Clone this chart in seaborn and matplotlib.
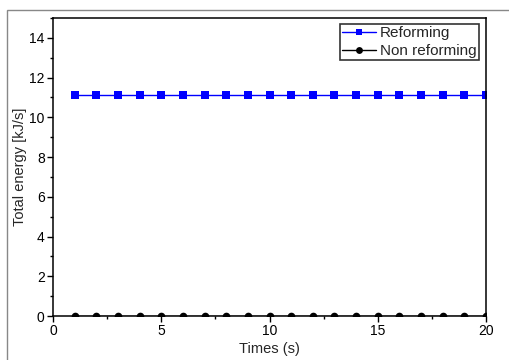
import numpy as np
import pandas as pd
import matplotlib
matplotlib.use("Agg")
import matplotlib.pyplot as plt
from matplotlib.patches import Rectangle
from matplotlib.ticker import MultipleLocator
import seaborn as sns

times = [1, 2, 3, 4, 5, 6, 7, 8, 9, 10, 11, 12, 13, 14, 15, 16, 17, 18, 19, 20]
reforming = [11.1] * 20
non_reforming = [0.0] * 20
series_names = ["Reforming", "Non reforming"]

df = pd.DataFrame({
    "Times (s)": times + times,
    "Total energy [kJ/s]": reforming + non_reforming,
    "Series": [series_names[0]] * len(times) + [series_names[1]] * len(times),
})

sns.set_theme(style="ticks")
plt.rcParams["font.family"] = ["Liberation Sans", "DejaVu Sans"]

fig = plt.figure(figsize=(5.09, 3.60), dpi=100)
ax = fig.add_axes([53 / 509, 1 - 316 / 360, (486 - 53) / 509, (316 - 18) / 360])

sns.lineplot(data=df, x="Times (s)", y="Total energy [kJ/s]", hue="Series",
             style="Series", markers={"Reforming": "s", "Non reforming": "o"},
             dashes=False, palette={"Reforming": "#0000FF", "Non reforming": "#000000"},
             markersize=5.5, linewidth=1.0, markeredgewidth=0, ax=ax)

ax.set_xlim(0, 20)
ax.set_ylim(0, 15)
ax.xaxis.set_major_locator(MultipleLocator(5))
ax.xaxis.set_minor_locator(MultipleLocator(2.5))
ax.yaxis.set_major_locator(MultipleLocator(2))
ax.yaxis.set_minor_locator(MultipleLocator(1))
ax.tick_params(which="major", direction="out", length=4, width=1, labelsize=10, colors="black", pad=2)
ax.tick_params(which="minor", direction="out", length=2.5, width=1, colors="black")
for s in ax.spines.values():
    s.set_linewidth(1.1)
    s.set_color("black")
ax.set_xlabel("Times (s)", fontsize=10.5, labelpad=2.5)
ax.set_ylabel("Total energy [kJ/s]", fontsize=10.5, labelpad=1.5)

leg = ax.legend(loc="upper right", bbox_to_anchor=(0.9905, 0.99), fontsize=11, frameon=True,
                fancybox=False, edgecolor="#333333", framealpha=1, borderpad=0.15,
                handlelength=2.2, handletextpad=0.25, labelspacing=0.25, borderaxespad=0.2,
                markerscale=0.9)
leg.get_frame().set_linewidth(1.2)

fig.add_artist(Rectangle((7 / 509, -0.02), 1.05, 0.972 + 0.02, transform=fig.transFigure,
                         fill=False, edgecolor="#888888", linewidth=1.0))

fig.savefig("out.png", dpi=100, facecolor="white")
